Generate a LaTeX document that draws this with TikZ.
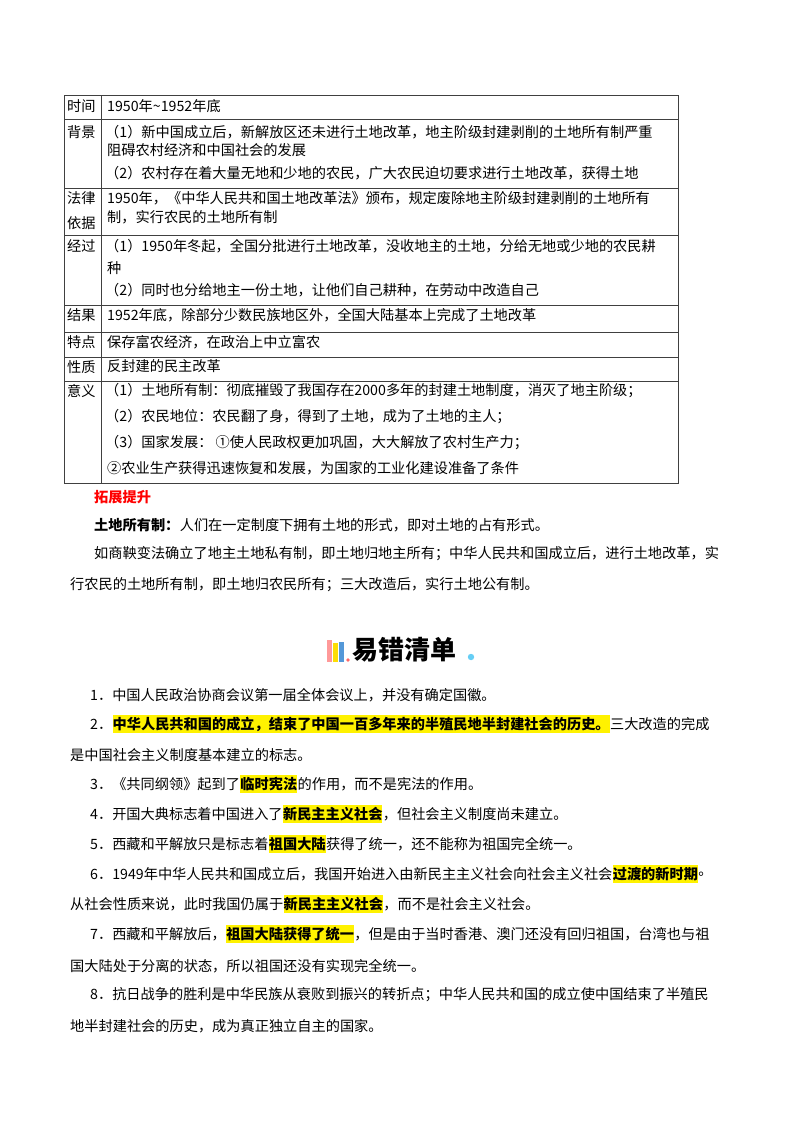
\documentclass[tikz,border=0pt]{standalone}
\usepackage{fontspec}
\setmainfont{Noto Sans CJK SC}
\begin{document}
\begin{tikzpicture}[x=1pt,y=-1pt,
  tx/.style={anchor=west,inner sep=0pt,font=\fontsize{14.2}{16}\selectfont},
  hl/.style={anchor=west,inner xsep=0pt,inner ysep=2pt,fill=yellow,font=\fontsize{14.2}{16}\selectfont\bfseries},
  bd/.style={tx,font=\fontsize{14.2}{16}\selectfont\bfseries},
  grid/.style={draw=black!75,line width=0.8pt}]
\useasboundingbox[fill=white] (0,0) rectangle (800,1132);
% table
\draw[grid] (64,95) rectangle (678,483);
\draw[grid] (101,95) -- (101,483);
\foreach \yy in {119,188,235,305,332,357,381} \draw[grid] (64,\yy) -- (678,\yy);
\node[tx] (l1) at (67,106) {时间};
\node[tx] (l2) at (67,132) {背景};
\node[tx] (l3) at (67,198) {法律};
\node[tx] (l3b) at (67,223) {依据};
\node[tx] (l4) at (67,246) {经过};
\node[tx] (l5) at (67,315) {结果};
\node[tx] (l6) at (67,342) {特点};
\node[tx] (l7) at (67,367) {性质};
\node[tx] (l8) at (67,391) {意义};
\node[tx] (c1) at (107,106) {1950年\textasciitilde1952年底};
\node[tx] (c2) at (105,132) {（1）新中国成立后，新解放区还未进行土地改革，地主阶级封建剥削的土地所有制严重};
\node[tx] (c2b) at (107,150) {阻碍农村经济和中国社会的发展};
\node[tx] (c2c) at (105,173) {（2）农村存在着大量无地和少地的农民，广大农民迫切要求进行土地改革，获得土地};
\node[tx] (c3) at (107,198) {1950年，《中华人民共和国土地改革法》颁布，规定废除地主阶级封建剥削的土地所有};
\node[tx] (c3b) at (107,217) {制，实行农民的土地所有制};
\node[tx] (c4) at (105,246) {（1）1950年冬起，全国分批进行土地改革，没收地主的土地，分给无地或少地的农民耕};
\node[tx] (c4b) at (107,268) {种};
\node[tx] (c4c) at (105,290) {（2）同时也分给地主一份土地，让他们自己耕种，在劳动中改造自己};
\node[tx] (c5) at (107,315) {1952年底，除部分少数民族地区外，全国大陆基本上完成了土地改革};
\node[tx] (c6) at (107,342) {保存富农经济，在政治上中立富农};
\node[tx] (c7) at (107,366) {反封建的民主改革};
\node[tx] (c8) at (105,391) {（1）土地所有制：彻底摧毁了我国存在2000多年的封建土地制度，消灭了地主阶级；};
\node[tx] (c8b) at (105,417) {（2）农民地位：农民翻了身，得到了土地，成为了土地的主人；};
\node[tx] (c8c) at (105,443) {（3）国家发展： ①使人民政权更加巩固，大大解放了农村生产力；};
\node[tx] (c8d) at (107,468) {②农业生产获得迅速恢复和发展，为国家的工业化建设准备了条件};
% expansion
\node[bd,text=red] (tz) at (94,497) {拓展提升};
\node[bd] (td) at (94,525) {土地所有制：};
\node[tx] (tdt) at (td.east) {人们在一定制度下拥有土地的形式，即对土地的占有形式。};
\node[tx] (sy) at (94,554) {如商鞅变法确立了地主土地私有制，即土地归地主所有；中华人民共和国成立后，进行土地改革，实};
\node[tx] (sy2) at (70,585) {行农民的土地所有制，即土地归农民所有；三大改造后，实行土地公有制。};
% heading
\fill[pink!80!red] (327,640) rectangle (332,662);
\fill[yellow!80!orange] (333,643) rectangle (338,662);
\fill[cyan!60!blue!70] (339,642) rectangle (344,662);
\fill[red!60] (348,660) circle (1.8);
\fill[cyan!60] (471,657) circle (3.2);
\node[anchor=west,inner sep=0pt,font=\fontsize{26}{28}\selectfont\bfseries] (hd) at (352,650) {易错清单};
% list
\node[tx] (n1) at (90,695) {1．中国人民政治协商会议第一届全体会议上，并没有确定国徽。};
\node[tx] (n2) at (90,724) {2．};
\node[hl] (n2h) at (n2.east) {中华人民共和国的成立，结束了中国一百多年来的半殖民地半封建社会的历史。};
\node[tx] (n2t) at (n2h.east) {三大改造的完成};
\node[tx] (n2b) at (70,755) {是中国社会主义制度基本建立的标志。};
\node[tx] (n3) at (90,784) {3．《共同纲领》起到了};
\node[hl] (n3h) at (n3.east) {临时宪法};
\node[tx] (n3t) at (n3h.east) {的作用，而不是宪法的作用。};
\node[tx] (n4) at (90,814) {4．开国大典标志着中国进入了};
\node[hl] (n4h) at (n4.east) {新民主主义社会};
\node[tx] (n4t) at (n4h.east) {，但社会主义制度尚未建立。};
\node[tx] (n5) at (90,844) {5．西藏和平解放只是标志着};
\node[hl] (n5h) at (n5.east) {祖国大陆};
\node[tx] (n5t) at (n5h.east) {获得了统一，还不能称为祖国完全统一。};
\node[tx] (n6) at (90,874) {6．1949年中华人民共和国成立后，我国开始进入由新民主主义社会向社会主义社会};
\node[hl] (n6h) at (n6.east) {过渡的新时期};
\node[tx] (n6t) at (n6h.east) {。};
\node[tx] (n6b) at (70,904) {从社会性质来说，此时我国仍属于};
\node[hl] (n6bh) at (n6b.east) {新民主主义社会};
\node[tx] (n6bt) at (n6bh.east) {，而不是社会主义社会。};
\node[tx] (n7) at (90,934) {7．西藏和平解放后，};
\node[hl] (n7h) at (n7.east) {祖国大陆获得了统一};
\node[tx] (n7t) at (n7h.east) {，但是由于当时香港、澳门还没有回归祖国，台湾也与祖};
\node[tx] (n7b) at (70,966) {国大陆处于分离的状态，所以祖国还没有实现完全统一。};
\node[tx] (n8) at (90,995) {8．抗日战争的胜利是中华民族从衰败到振兴的转折点；中华人民共和国的成立使中国结束了半殖民};
\node[tx] (n8b) at (70,1026) {地半封建社会的历史，成为真正独立自主的国家。};
\end{tikzpicture}
\end{document}
